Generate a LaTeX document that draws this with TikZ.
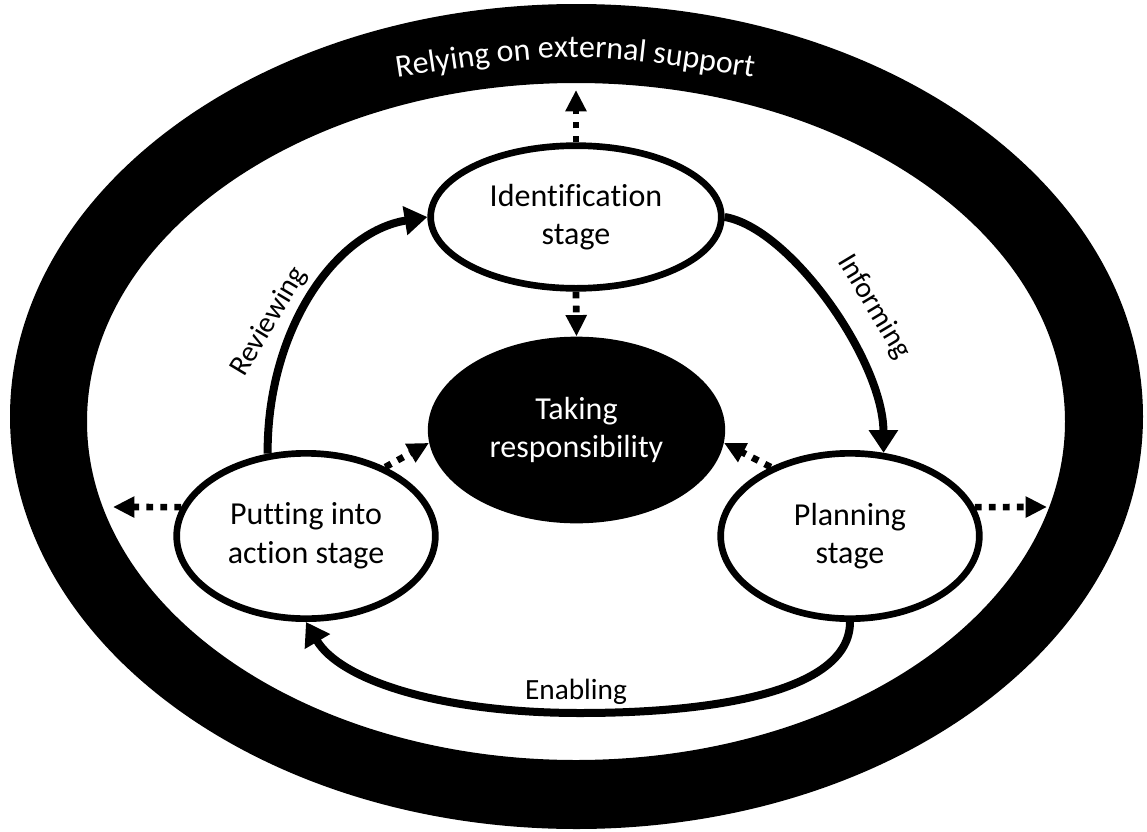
\documentclass[tikz,border=0pt]{standalone}
\usepackage{fontspec}
\setmainfont{Carlito}[Ligatures=NoCommon]
\usetikzlibrary{shapes.geometric,arrows.meta,decorations.text}

\begin{document}
\begin{tikzpicture}[x=0.75pt,y=-0.75pt,
  stagebox/.style={ellipse, draw=black, line width=5pt, fill=white, inner sep=0pt,
    align=center, font=\fontsize{24}{29}\selectfont},
  corebox/.style={ellipse, fill=black, text=white, inner sep=0pt,
    align=center, font=\fontsize{24}{29}\selectfont},
  flow/.style={line width=6pt, -{Triangle[length=17pt,width=21pt]}},
  spill/.style={line width=5pt, dash pattern=on 5pt off 5.5pt,
    -{Triangle[length=16pt,width=15pt]}},
  flowlabel/.style={font=\fontsize{22}{26}\selectfont, inner sep=0pt}
]
\useasboundingbox (0,0) rectangle (1147,832);
\fill[white] (0,0) rectangle (1147,832);

% black ring of external support
\fill[black, even odd rule]
  (576.5,416.5) ellipse [x radius=566.5, y radius=412.5]
  (576,421.5) ellipse [x radius=489, y radius=338.5];
\path[decorate, decoration={text along path, text align=center,
  text={|\fontsize{24}{29}\selectfont\color{white}|Relying on external support}}]
  (380,80) .. controls (576,50) .. (770,80);

% stages
\node[stagebox, minimum width=218pt, minimum height=107pt] (id) at (576,217) {Identification\\stage};
\node[corebox, minimum width=223pt, minimum height=140pt] (resp) at (576.5,430) {Taking\\responsibility};
\node[stagebox, minimum width=194pt, minimum height=124pt] (put) at (306,536) {Putting into\\action stage};
\node[stagebox, minimum width=194pt, minimum height=124pt] (plan) at (850,536) {Planning\\stage};

% free ends of the outward arrows
\coordinate (upTip) at (576,90);
\coordinate (leftTip) at (113,507);
\coordinate (rightTip) at (1047,507);

% dotted arrows
\draw[spill] (id.north) -- (upTip);
\draw[spill] (id.south) -- (resp.north);
\draw[spill] (put.41) -- (resp.185);
\draw[spill] (plan.139) -- (resp.355);
\draw[spill] (put.167) -- (leftTip);
\draw[spill] (plan.13) -- (rightTip);

% cycle arrows
\draw[flow] (put.115) .. controls (267,330) and (335,232) .. (id.west);
\draw[flow] (id.east) .. controls (790,228) and (883,360) .. (plan.68);
\draw[flow] (plan.south) .. controls (850,690) and (720,713) .. (580,713)
  .. controls (440,713) and (340,680) .. (put.south);

% labels
\node[flowlabel, rotate=59] (lrev) at (269,322) {Reviewing};
\node[flowlabel, rotate=-59] (linf) at (874,307) {Informing};
\node[flowlabel] (lena) at (576,692) {Enabling};
\end{tikzpicture}
\end{document}
